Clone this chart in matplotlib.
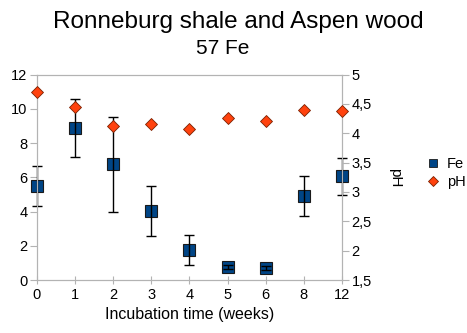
import matplotlib.pyplot as plt
from matplotlib.ticker import FuncFormatter
from matplotlib.lines import Line2D

plt.rcParams['font.family'] = ['Liberation Sans', 'DejaVu Sans']

weeks = ["0", "1", "2", "3", "4", "5", "6", "8", "12"]
fe = [5.5, 8.9, 6.75, 4.05, 1.75, 0.75, 0.7, 4.9, 6.05]
fe_err = [1.15, 1.7, 2.8, 1.45, 0.9, 0.12, 0.12, 1.15, 1.1]
ph = [4.70, 4.45, 4.12, 4.15, 4.08, 4.26, 4.21, 4.40, 4.38]

x = list(range(len(weeks)))
grey = "#b3b3b3"

fig = plt.figure(figsize=(4.67, 3.33), dpi=100)
ax = fig.add_axes([0.0792, 0.159, 0.653, 0.617])
ax2 = ax.twinx()

ax.errorbar(x, fe, yerr=fe_err, fmt="none", ecolor="black", elinewidth=1,
            capsize=3.5, capthick=1, zorder=3, clip_on=False)
ax.plot(x, fe, ls="none", marker="s", ms=8.5, mfc="#004586", mec="#1a1a1a",
        mew=0.8, zorder=2, clip_on=False)
ax2.plot(x, ph, ls="none", marker="D", ms=6.2, mfc="#ff420e", mec="#7a2000",
         mew=0.6, zorder=4, clip_on=False)

ax.set_xlim(0, len(weeks) - 1)
ax.set_ylim(0, 12)
ax.set_yticks(range(0, 13, 2))
ax.set_xticks(x)
ax.set_xticklabels(weeks)
ax2.set_ylim(1.5, 5)
ax2.set_yticks([1.5, 2, 2.5, 3, 3.5, 4, 4.5, 5])
ax2.yaxis.set_major_formatter(FuncFormatter(lambda v, p: f"{v:g}".replace(".", ",")))

for a in (ax, ax2):
    for s in a.spines.values():
        s.set_color(grey)
    a.tick_params(colors=grey, labelcolor="black", labelsize=10.5, length=5)
ax.tick_params(axis="x", direction="inout", length=6, pad=3)
ax.tick_params(axis="y", pad=2)
ax2.tick_params(axis="y", pad=2)

ax.set_xlabel("Incubation time (weeks)", fontsize=11.5, labelpad=3)
ax2.set_ylabel("pH", fontsize=11, rotation=270, labelpad=17, va="center")

fig.text(0.51, 0.935, "Ronneburg shale and Aspen wood", ha="center", va="center", fontsize=17.5)
fig.text(0.477, 0.853, "57 Fe", ha="center", va="center", fontsize=15)

handles = [
    Line2D([], [], ls="none", marker="s", ms=6, mfc="#004586", mec="#1a1a1a", mew=0.6),
    Line2D([], [], ls="none", marker="D", ms=5, mfc="#ff420e", mec="#7a2000", mew=0.6),
]
fig.legend(handles, ["Fe", "pH"], loc="center left", bbox_to_anchor=(0.9, 0.48),
           frameon=False, fontsize=10.5, handlelength=0.8, handletextpad=0.5,
           labelspacing=0.25, borderpad=0)

fig.savefig("out.png", dpi=100)
